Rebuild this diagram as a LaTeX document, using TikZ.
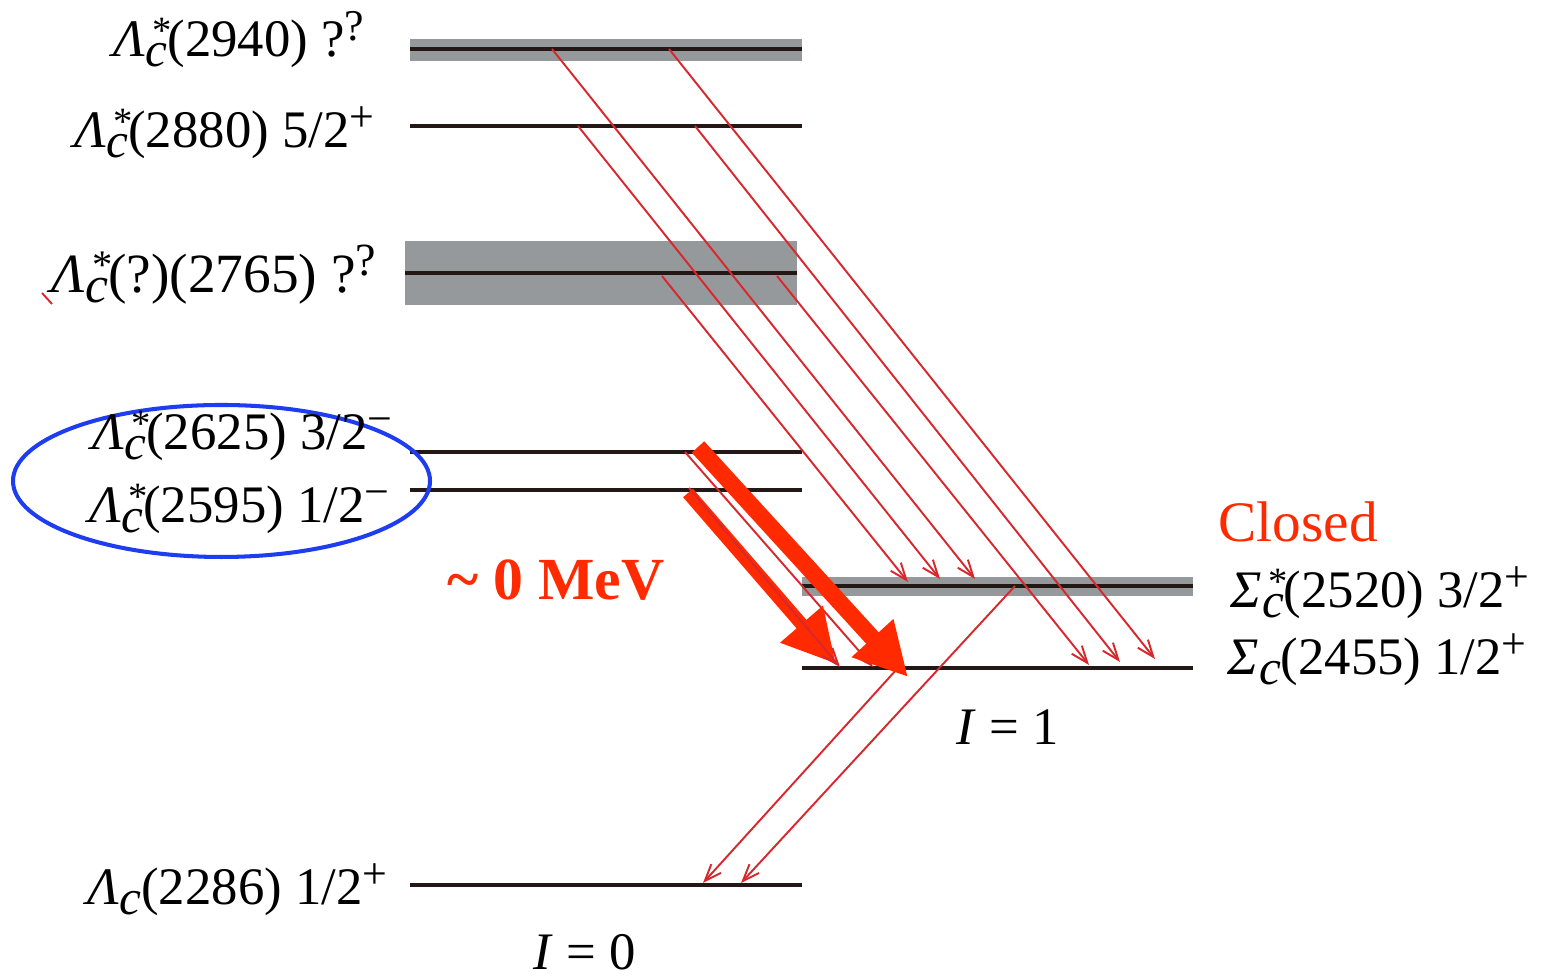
\documentclass[tikz,border=0pt]{standalone}
\usepackage{fontspec}
\setmainfont{Liberation Serif}
\usetikzlibrary{arrows.meta}
\definecolor{lvlblack}{RGB}{35,24,21}
\definecolor{bandgray}{RGB}{150,153,156}
\definecolor{transred}{RGB}{215,40,45}
\definecolor{hotred}{RGB}{255,42,0}
\definecolor{ringblue}{RGB}{30,60,240}
\newcommand{\up}[1]{\raisebox{4.8pt}{\fontsize{12.5}{12}\selectfont #1}}
\newcommand{\hadr}[2]{\textit{#1}\rlap{\raisebox{3.8pt}{\fontsize{11}{10}\selectfont\,#2}}\raisebox{-2.6pt}{\fontsize{14}{14}\selectfont\textit{c}}}

\begin{document}
\begin{tikzpicture}[font=\fontsize{15}{16}\selectfont,
  lev/.style={draw=lvlblack,line width=1.3pt},
  lab/.style={inner sep=0pt},
  trans/.style={draw=transred,line width=0.55pt,-{Straight Barb[length=4.8pt,width=3.7pt]}},
  fat/.style={draw=hotred,-{Triangle[length=15pt,width=15pt]}}]
  \useasboundingbox (0,0) rectangle (15.51,9.77);
  % Breiten der Zustaende
  \fill[bandgray] (4.10,9.16) rectangle (8.02,9.38);
  \fill[bandgray] (4.05,6.72) rectangle (7.97,7.36);
  \fill[bandgray] (8.02,3.81) rectangle (11.93,4.00);
  % Niveaus, I=0 links, I=1 rechts
  \foreach \y in {9.28,8.51,5.25,4.87,0.92} \draw[lev] (4.10,\y)--(8.02,\y);
  \draw[lev] (4.05,7.04)--(7.97,7.04);
  \foreach \y in {3.91,3.09} \draw[lev] (8.02,\y)--(11.93,\y);
  % Anfangs- und Endpunkte der Uebergaenge
  \foreach \n/\x/\y in {a1/5.52/9.28, a1e/9.75/3.98, a2/6.69/9.28, a2e/11.55/3.18,
      b1/5.78/8.51, b1e/9.40/3.98, b2/6.95/8.51, b2e/11.20/3.15,
      c1/6.62/7.01, c1e/9.08/3.95, c2/7.77/7.01, c2e/10.89/3.12,
      d/6.85/5.25, de/8.73/3.10, e/6.89/4.89, ee/8.40/3.10,
      f/8.97/3.08, fe/7.03/0.94, g/10.15/3.91, ge/7.41/0.94}
    \coordinate (\n) at (\x,\y);
  \foreach \s/\t in {a1/a1e, a2/a2e, b1/b1e, b2/b2e, c1/c1e, c2/c2e, d/de, f/fe, g/ge}
    \draw[trans] (\s)--(\t);
  % dicke Pfeile
  \coordinate (p1) at (6.88,4.84);
  \coordinate (p1e) at (8.36,3.13);
  \coordinate (p2) at (6.98,5.30);
  \coordinate (p2e) at (9.08,3.00);
  \draw[fat,line width=4.8pt] (p2)--(p2e);
  \draw[fat,line width=3.7pt] (p1)--(p1e);
  \draw[trans] (e)--(ee);
  % Markierung
  \draw[ringblue,line width=1.15pt] (2.215,4.96) ellipse [x radius=2.085,y radius=0.76];
  \draw[transred,line width=0.55pt] (0.42,6.84)--(0.52,6.73);
  % Beschriftung
  \node[lab,anchor=base east] (l2940) at (3.65,9.20) {\hadr{Λ}{*}(2940) ?\up{?}};
  \node[lab,anchor=base east] (l2880) at (3.75,8.29) {\hadr{Λ}{*}(2880) 5/2\up{+}};
  \node[lab,anchor=base east,scale=1.05,transform shape] (l2765) at (3.77,6.84) {\hadr{Λ}{*}(?)(2765) ?\up{?}};
  \node[lab,anchor=base east] (l2625) at (3.93,5.27) {\hadr{Λ}{*}(2625) 3/2\up{−}};
  \node[lab,anchor=base east] (l2595) at (3.90,4.54) {\hadr{Λ}{*}(2595) 1/2\up{−}};
  \node[lab,anchor=base east] (l2286) at (3.88,0.72) {\hadr{Λ}{}(2286) 1/2\up{+}};
  \node[lab,anchor=base west] (l2520) at (12.30,3.69) {\hadr{Σ}{*}(2520) 3/2\up{+}};
  \node[lab,anchor=base west] (l2455) at (12.27,3.02) {\hadr{Σ}{}(2455) 1/2\up{+}};
  \node[lab,anchor=base] (iso1) at (10.08,2.32) {\textit{I} = 1};
  \node[lab,anchor=base] (iso0) at (5.85,0.07) {\textit{I} = 0};
  \node[lab,anchor=base west,text=hotred,font=\fontsize{16.3}{18}\selectfont] (closed) at (12.18,4.35) {Closed};
  \node[lab,anchor=base west,text=hotred,font=\fontsize{17}{19}\selectfont\bfseries] (mev) at (4.47,3.77) {\textasciitilde{} 0 MeV};
\end{tikzpicture}
\end{document}
